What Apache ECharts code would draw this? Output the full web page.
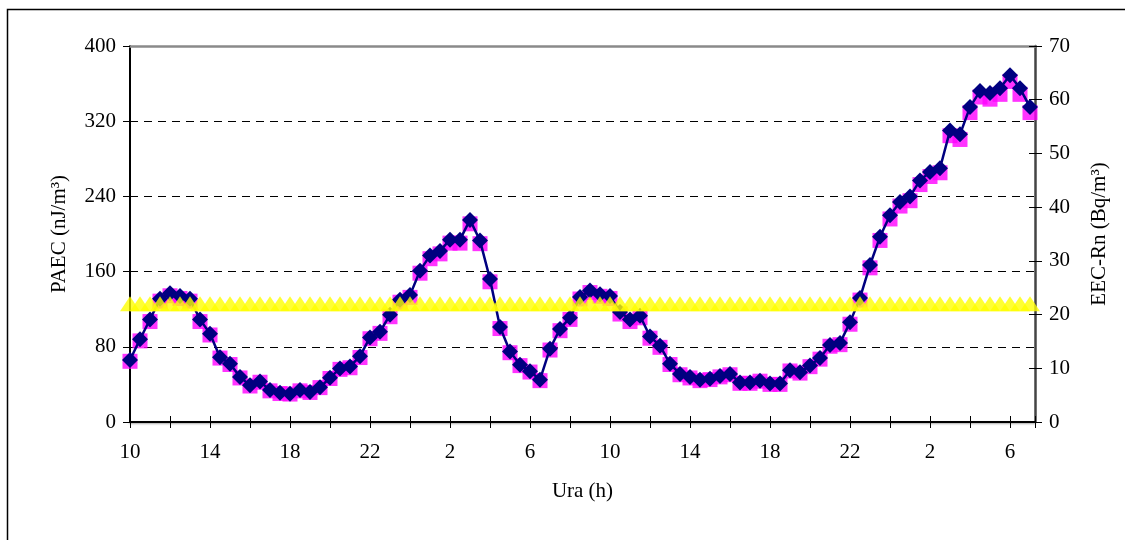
<!DOCTYPE html>
<html>
<head>
<meta charset="utf-8">
<script src="https://cdn.jsdelivr.net/npm/echarts@6/dist/echarts.min.js"></script>
<style>
html,body{margin:0;padding:0;background:#fff;}
#c{width:1125px;height:540px;}
</style>
</head>
<body>
<div id="c"></div>
<script>
// Sampling: every half hour starting at 10:00
const startHour = 10;
const stepHours = 0.5;
// PAEC (nJ/m3), left axis - navy diamonds
const paec = [66,88,109,131,137,134,131,109,94,69,
  62,48,39,43,34,31,30,34,32,37,
  47,57,59,70,90,96,114,130,135,161,
  177,182,194,194,215,193,152,101,75,61,
  54,45,78,99,111,133,140,136,134,117,
  109,113,91,81,62,51,48,45,46,49,
  51,42,42,44,41,41,55,53,60,68,
  82,84,106,132,167,197,220,234,240,257,
  266,270,310,306,335,352,350,355,369,355,335];
// EEC-Rn (Bq/m3), right axis - magenta squares
const eec = [11.3,15.1,18.7,22.5,23.5,23.0,22.5,18.7,16.2,11.9,
  10.7,8.2,6.7,7.4,5.8,5.3,5.2,5.8,5.5,6.4,
  8.1,9.8,10.1,12.0,15.5,16.5,19.6,22.3,23.2,27.7,
  30.4,31.3,33.3,33.3,36.9,33.2,26.1,17.4,12.9,10.5,
  9.3,7.7,13.4,17.0,19.1,22.9,24.1,23.4,23.0,20.1,
  18.7,19.4,15.6,13.9,10.7,8.8,8.2,7.7,7.9,8.4,
  8.8,7.2,7.2,7.6,7.0,7.0,9.5,9.1,10.3,11.7,
  14.1,14.4,18.2,22.7,28.7,33.8,37.8,40.2,41.2,44.2,
  45.7,46.4,53.3,52.6,57.6,60.5,60.1,61.0,63.4,61.0,57.6];
// Reference level (Bq/m3), right axis - yellow triangles
const refLevel = 22;

const leftAxis = {min:0, max:400, interval:80};
const rightAxis = {min:0, max:70, interval:10};
const xAxisRange = {min:0, max:45.25, interval:2, labelEvery:4};

const xs = paec.map((_, i) => i * stepHours);
const paecData = paec.map((v, i) => [xs[i], v]);
const eecData = eec.map((v, i) => [xs[i], v]);
const refData = xs.map(x => [x, refLevel]);

const FONT = 'Liberation Serif';
const txt = {fontFamily: FONT, fontSize: 21, color: '#000'};

const chart = echarts.init(document.getElementById('c'), null, {renderer:'canvas'});
chart.setOption({
  animation: false,
  backgroundColor: '#fff',
  graphic: [{
    type: 'rect', shape: {x: 7.5, y: 9.5, width: 1130, height: 540},
    style: {fill: 'none', stroke: '#000', lineWidth: 1.5}, silent: true, z: -10
  }],
  grid: {left: 130, right: 90, top: 46, bottom: 118},
  xAxis: [{
    type: 'value', position: 'bottom',
    min: xAxisRange.min, max: xAxisRange.max, interval: xAxisRange.interval,
    axisLine: {show: true, onZero: false, lineStyle: {color: '#000', width: 2, shadowColor: 'rgba(0,0,0,0.35)', shadowBlur: 2, shadowOffsetY: 1}},
    axisTick: {show: true, inside: false, length: 6, lineStyle: {color: '#000', width: 1}},
    axisLabel: Object.assign({margin: 20, formatter: v => (v % xAxisRange.labelEvery === 0) ? String((startHour + v) % 24) : ''}, txt),
    splitLine: {show: false},
    name: 'Ura (h)', nameLocation: 'middle', nameGap: 59,
    nameTextStyle: txt
  }, {
    type: 'value', position: 'bottom',
    min: xAxisRange.min, max: xAxisRange.max, interval: xAxisRange.interval,
    axisLine: {show: false, onZero: false},
    axisTick: {show: true, inside: true, length: 6, lineStyle: {color: '#000', width: 1}},
    axisLabel: {show: false}, splitLine: {show: false}
  }, {
    type: 'value', position: 'top',
    min: xAxisRange.min, max: xAxisRange.max,
    axisLine: {show: true, onZero: false, lineStyle: {color: '#8a8a8a', width: 2.5}},
    axisTick: {show: false}, axisLabel: {show: false}, splitLine: {show: false}
  }],
  yAxis: [{
    type: 'value', position: 'left',
    min: leftAxis.min, max: leftAxis.max, interval: leftAxis.interval,
    axisLine: {show: true, onZero: false, lineStyle: {color: '#000', width: 2}},
    axisTick: {show: true, inside: false, length: 7, lineStyle: {color: '#000', width: 1}},
    axisLabel: Object.assign({margin: 14}, txt),
    splitLine: {show: true, lineStyle: {color: '#000', width: 1, type: [8, 6]}},
    name: 'PAEC (nJ/m³)', nameLocation: 'middle', nameGap: 60, nameRotate: 90,
    nameTextStyle: txt
  }, {
    type: 'value', position: 'right',
    min: rightAxis.min, max: rightAxis.max, interval: rightAxis.interval,
    axisLine: {show: true, onZero: false, lineStyle: {color: '#444', width: 2.5}},
    axisTick: {show: true, inside: false, length: 7, lineStyle: {color: '#000', width: 1}},
    axisLabel: Object.assign({margin: 14}, txt),
    splitLine: {show: false},
    name: 'EEC-Rn (Bq/m³)', nameLocation: 'middle', nameGap: 54, nameRotate: 90,
    nameTextStyle: txt
  }, {
    type: 'value', position: 'right',
    min: rightAxis.min, max: rightAxis.max, interval: rightAxis.interval,
    axisLine: {show: false, onZero: false},
    axisTick: {show: true, inside: true, length: 6, lineStyle: {color: '#000', width: 1}},
    axisLabel: {show: false}, splitLine: {show: false}
  }],
  series: [{
    name: 'EEC-Rn', type: 'scatter', xAxisIndex: 0, yAxisIndex: 1,
    data: eecData, symbol: 'rect', symbolSize: 15,
    itemStyle: {color: '#ff00ff'}, z: 2
  }, {
    name: 'PAEC', type: 'line', xAxisIndex: 0, yAxisIndex: 0,
    data: paecData, symbol: 'diamond', symbolSize: 16, showSymbol: true,
    lineStyle: {color: '#000080', width: 2.5},
    itemStyle: {color: '#000080'}, z: 3
  }, {
    name: 'Ref', type: 'scatter', xAxisIndex: 0, yAxisIndex: 1,
    data: refData, symbol: 'triangle', symbolSize: [20, 15],
    itemStyle: {color: '#ffff00'}, z: 4
  }]
});
</script>
</body>
</html>
